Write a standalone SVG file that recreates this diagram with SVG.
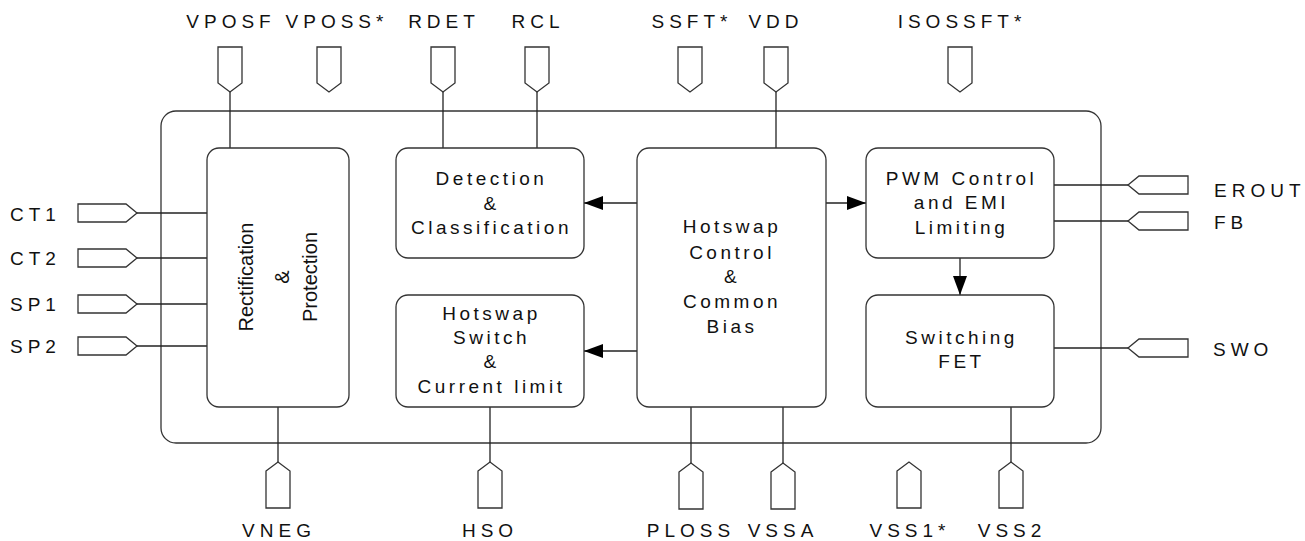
<svg xmlns="http://www.w3.org/2000/svg" width="1305" height="541" viewBox="0 0 1305 541">
<style>
.box{fill:#fff;stroke:#333;stroke-width:1.3}
.pin{fill:#fff;stroke:#333;stroke-width:1.3}
.wire{fill:none;stroke:#222;stroke-width:1.3}
.lbl{font-family:"Liberation Sans",Arial,sans-serif;font-size:19px;letter-spacing:5px;fill:#111}
.blk{font-family:"Liberation Sans",Arial,sans-serif;font-size:19px;letter-spacing:3.5px;fill:#111;text-anchor:middle}
.rot{font-family:"Liberation Sans",Arial,sans-serif;font-size:20px;fill:#111;text-anchor:middle}
.mid{text-anchor:middle}
</style>
<defs>
<marker id="ah" markerUnits="userSpaceOnUse" markerWidth="20" markerHeight="16" refX="19" refY="7" orient="auto">
<path d="M0,0 L19,7 L0,14 z" fill="#000"/>
</marker>
<path id="pd" d="M-12,0 H12 V36 L0,45 L-12,36 Z"/>
<path id="pu" d="M-12,0 L0,-9 L12,0 V37 H-12 Z"/>
<path id="pl" d="M0,-9 H48 L59,0 L48,9 H0 Z"/>
<path id="pr" d="M0,0 L11,-9 H60 V9 H11 Z"/>
</defs>

<g id="chip">
<rect class="box" x="161" y="111" width="940" height="332" rx="15" ry="15"/>
</g>

<g id="connectors">
<line class="wire" x1="230" y1="92" x2="230" y2="148"/>
<line class="wire" x1="443" y1="92" x2="443" y2="148"/>
<line class="wire" x1="537" y1="92" x2="537" y2="148"/>
<line class="wire" x1="776" y1="92" x2="776" y2="148"/>
<line class="wire" x1="137" y1="213" x2="207" y2="213"/>
<line class="wire" x1="137" y1="258" x2="207" y2="258"/>
<line class="wire" x1="137" y1="304" x2="207" y2="304"/>
<line class="wire" x1="137" y1="346" x2="207" y2="346"/>
<line class="wire" x1="1054" y1="185" x2="1128" y2="185"/>
<line class="wire" x1="1054" y1="221" x2="1128" y2="221"/>
<line class="wire" x1="1054" y1="348" x2="1128" y2="348"/>
<line class="wire" x1="278" y1="407" x2="278" y2="462"/>
<line class="wire" x1="490" y1="407" x2="490" y2="462"/>
<line class="wire" x1="691" y1="407" x2="691" y2="463"/>
<line class="wire" x1="783" y1="407" x2="783" y2="463"/>
<line class="wire" x1="1011" y1="407" x2="1011" y2="462"/>
<line class="wire" x1="637" y1="203" x2="584" y2="203" marker-end="url(#ah)"/>
<line class="wire" x1="637" y1="351" x2="584" y2="351" marker-end="url(#ah)"/>
<line class="wire" x1="826" y1="203" x2="866" y2="203" marker-end="url(#ah)"/>
<line class="wire" x1="960" y1="258" x2="960" y2="295" marker-end="url(#ah)"/>
</g>

<g id="rectification">
<rect class="box" x="207" y="148" width="142" height="259" rx="12" ry="12"/>
<text class="rot" transform="translate(253,277) rotate(-90)">Rectification</text>
<text class="rot" transform="translate(289,277) rotate(-90)">&amp;</text>
<text class="rot" transform="translate(317,277) rotate(-90)">Protection</text>
</g>

<g id="detection">
<rect class="box" x="396" y="148" width="188" height="110" rx="12" ry="12"/>
<text class="blk" x="491.5" y="185">Detection</text>
<text class="blk" x="491.5" y="210">&amp;</text>
<text class="blk" x="491.5" y="234" letter-spacing="2.3">Classification</text>
</g>

<g id="hotswap-switch">
<rect class="box" x="396" y="295" width="188" height="112" rx="12" ry="12"/>
<text class="blk" x="491.5" y="320">Hotswap</text>
<text class="blk" x="491.5" y="344">Switch</text>
<text class="blk" x="491.5" y="368">&amp;</text>
<text class="blk" x="491.5" y="393" letter-spacing="2.5">Current limit</text>
</g>

<g id="hotswap-control">
<rect class="box" x="637" y="148" width="189" height="259" rx="12" ry="12"/>
<text class="blk" x="732" y="233" letter-spacing="4.3">Hotswap</text>
<text class="blk" x="732" y="259" letter-spacing="4.3">Control</text>
<text class="blk" x="732" y="283">&amp;</text>
<text class="blk" x="732" y="308" letter-spacing="5">Common</text>
<text class="blk" x="732" y="333" letter-spacing="4.3">Bias</text>
</g>

<g id="pwm">
<rect class="box" x="866" y="148" width="188" height="110" rx="12" ry="12"/>
<text class="blk" x="961.5" y="185">PWM Control</text>
<text class="blk" x="961.5" y="209">and EMI</text>
<text class="blk" x="961.5" y="234">Limiting</text>
</g>

<g id="switching-fet">
<rect class="box" x="866" y="295" width="188" height="112" rx="12" ry="12"/>
<text class="blk" x="961.5" y="344">Switching</text>
<text class="blk" x="961.5" y="368">FET</text>
</g>

<g id="pin-VPOSF"><use href="#pd" class="pin" x="230" y="47"/><text class="lbl mid" x="231" y="28">VPOSF</text></g>
<g id="pin-VPOSS"><use href="#pd" class="pin" x="329" y="47"/><text class="lbl mid" x="337" y="28">VPOSS*</text></g>
<g id="pin-RDET"><use href="#pd" class="pin" x="443" y="47"/><text class="lbl mid" x="444" y="28">RDET</text></g>
<g id="pin-RCL"><use href="#pd" class="pin" x="537" y="47"/><text class="lbl mid" x="538" y="28">RCL</text></g>
<g id="pin-SSFT"><use href="#pd" class="pin" x="690" y="47"/><text class="lbl mid" x="692" y="28">SSFT*</text></g>
<g id="pin-VDD"><use href="#pd" class="pin" x="776" y="47"/><text class="lbl mid" x="776" y="28">VDD</text></g>
<g id="pin-ISOSSFT"><use href="#pd" class="pin" x="960" y="47"/><text class="lbl mid" x="962" y="28">ISOSSFT*</text></g>

<g id="pin-CT1"><use href="#pl" class="pin" x="78" y="213"/><text class="lbl" x="10" y="221">CT1</text></g>
<g id="pin-CT2"><use href="#pl" class="pin" x="78" y="258"/><text class="lbl" x="10" y="265">CT2</text></g>
<g id="pin-SP1"><use href="#pl" class="pin" x="78" y="304"/><text class="lbl" x="10" y="311">SP1</text></g>
<g id="pin-SP2"><use href="#pl" class="pin" x="78" y="346"/><text class="lbl" x="10" y="353">SP2</text></g>

<g id="pin-EROUT"><use href="#pr" class="pin" x="1128" y="185"/><text class="lbl" x="1214" y="197">EROUT</text></g>
<g id="pin-FB"><use href="#pr" class="pin" x="1128" y="221"/><text class="lbl" x="1214" y="229">FB</text></g>
<g id="pin-SWO"><use href="#pr" class="pin" x="1128" y="348"/><text class="lbl" x="1213" y="356">SWO</text></g>

<g id="pin-VNEG"><use href="#pu" class="pin" x="278" y="471"/><text class="lbl mid" x="279" y="537">VNEG</text></g>
<g id="pin-HSO"><use href="#pu" class="pin" x="490" y="471"/><text class="lbl mid" x="490" y="537">HSO</text></g>
<g id="pin-PLOSS"><use href="#pu" class="pin" x="691" y="472"/><text class="lbl mid" x="691" y="537">PLOSS</text></g>
<g id="pin-VSSA"><use href="#pu" class="pin" x="783" y="472"/><text class="lbl mid" x="783" y="537">VSSA</text></g>
<g id="pin-VSS1"><use href="#pu" class="pin" x="909" y="471"/><text class="lbl mid" x="910" y="537">VSS1*</text></g>
<g id="pin-VSS2"><use href="#pu" class="pin" x="1011" y="471"/><text class="lbl mid" x="1012" y="537">VSS2</text></g>
</svg>
